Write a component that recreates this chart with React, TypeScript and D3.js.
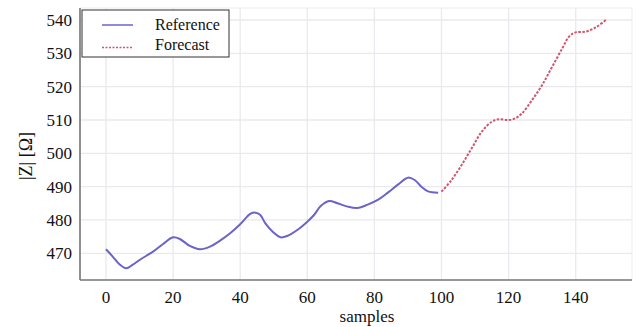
import React from "react";
import * as d3 from "d3";

const refSamples = [0, 2, 4, 6, 8, 10, 14, 17, 20, 22, 25, 28, 31, 34, 37, 40, 43, 44.5, 46, 47.5, 50, 52, 54, 57, 60, 62, 64, 66.5, 69, 72, 75, 78, 81, 84, 87, 90, 92, 94, 96, 99];
const refValues = [471.2, 469, 466.7, 465.5, 466.6, 468, 470.5, 472.8, 474.8, 474.3, 472.2, 471.2, 472, 473.8, 476, 478.7, 481.8, 482.2, 481.5, 479, 476.2, 474.8, 475.2, 477, 479.5, 481.5, 484.2, 485.7, 485, 484, 483.6, 484.6, 486, 488.2, 490.6, 492.7, 492, 490, 488.6, 488.2];
const fcSamples = [100, 103, 106, 109, 112, 115, 117, 120, 122, 124, 127, 130, 133, 136, 138, 140, 143, 146, 149];
const fcValues = [488.5, 492, 496.5, 501.5, 506.5, 509.5, 510.2, 510, 510.5, 512, 516, 520.5, 526, 531.5, 535, 536.3, 536.5, 537.8, 540];
const xTicks = [0, 20, 40, 60, 80, 100, 120, 140];
const yTicks = [470, 480, 490, 500, 510, 520, 530, 540];
const legendLabels = ["Reference", "Forecast"];

const W = 638, H = 327;
const left = 80, right = 632, top = 8, bottom = 280;
const FONT = "'Liberation Serif', 'Times New Roman', serif";
const BLUE = "#6a64c8";
const RED = "#d0566e";

export default function App() {
  const x = d3.scaleLinear().domain([0, 140]).range([106, 575.7]);
  const y = d3.scaleLinear().domain([470, 540]).range([253.3, 20]);
  const line = d3.line<[number, number]>().x(d => x(d[0])).y(d => y(d[1])).curve(d3.curveCatmullRom.alpha(0.5));
  const refPath = line(refSamples.map((s, i) => [s, refValues[i]] as [number, number])) || "";
  const fcPath = line(fcSamples.map((s, i) => [s, fcValues[i]] as [number, number])) || "";
  return (
    <svg width={W} height={H} style={{ position: "absolute", left: 0, top: 0, background: "#fff" }}>
      <rect x={left} y={top} width={right - left} height={bottom - top} fill="none" stroke="#ececec" strokeWidth={1} />
      {xTicks.map(t => (
        <line key={"gx" + t} x1={x(t)} x2={x(t)} y1={top} y2={bottom} stroke="#e9e9ef" strokeWidth={1.3} />
      ))}
      {yTicks.map(t => (
        <line key={"gy" + t} x1={left} x2={right} y1={y(t)} y2={y(t)} stroke="#e9e9ef" strokeWidth={1.3} />
      ))}
      <line x1={left} x2={left} y1={top} y2={bottom} stroke="#777" strokeWidth={1.6} />
      <line x1={left} x2={right} y1={bottom} y2={bottom} stroke="#777" strokeWidth={1.6} />
      {yTicks.map(t => (
        <text key={"ty" + t} x={72} y={y(t) + 6} textAnchor="end" fontFamily={FONT} fontSize={17} fill="#111">{t}</text>
      ))}
      {xTicks.map(t => (
        <text key={"tx" + t} x={x(t)} y={303} textAnchor="middle" fontFamily={FONT} fontSize={17} fill="#111">{t}</text>
      ))}
      <text x={367} y={322} textAnchor="middle" fontFamily={FONT} fontSize={17} fill="#111">samples</text>
      <text transform={`translate(32,156) rotate(-90)`} textAnchor="middle" fontFamily={FONT} fontSize={18} fill="#111">|Z| [Ω]</text>
      <path d={refPath} fill="none" stroke={BLUE} strokeWidth={2} />
      <path d={fcPath} fill="none" stroke={RED} strokeWidth={2} strokeDasharray="2.5,1.5" />
      <rect x={82} y={10} width={147} height={47} fill="#fff" stroke="#333" strokeWidth={1} />
      <line x1={102} x2={133} y1={25} y2={25} stroke={BLUE} strokeWidth={1.5} />
      <line x1={102} x2={133} y1={47.5} y2={47.5} stroke={RED} strokeWidth={1.5} strokeDasharray="2,1.5" />
      <text x={155} y={30} fontFamily={FONT} fontSize={16} fill="#111">{legendLabels[0]}</text>
      <text x={155} y={50} fontFamily={FONT} fontSize={16} fill="#111">{legendLabels[1]}</text>
    </svg>
  );
}
